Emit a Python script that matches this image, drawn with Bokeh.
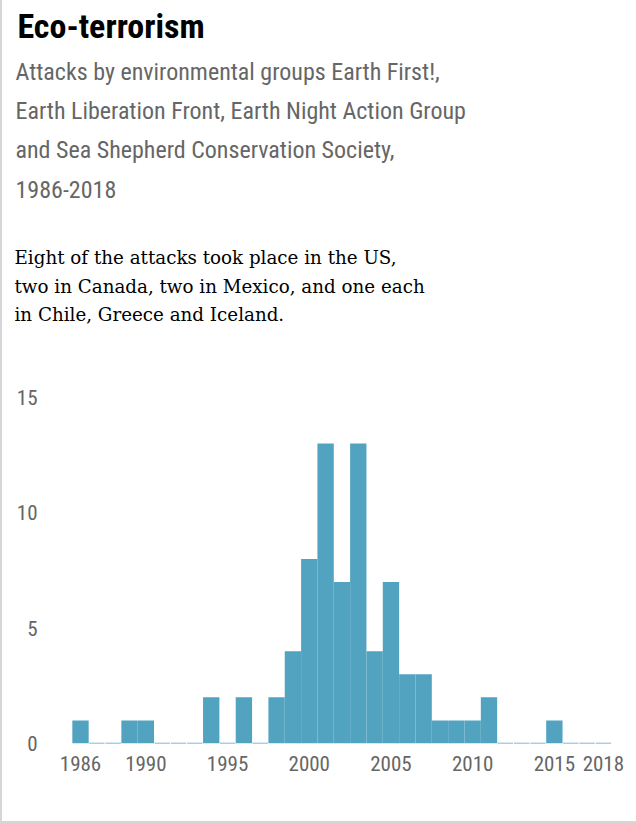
from bokeh.plotting import figure
from bokeh.layouts import column
from bokeh.models import Range1d, FixedTicker, Label, ColumnDataSource
from bokeh.embed import file_html
from bokeh.resources import INLINE

# ---- data ----
years = list(range(1986, 2019))
attacks = [1, 0, 0, 1, 1, 0, 0, 0, 2, 0, 2, 0, 2, 4, 8, 13, 7, 13, 4, 7,
           3, 3, 1, 1, 1, 2, 0, 0, 0, 1, 0, 0, 0]
x_ticks = [1986, 1990, 1995, 2000, 2005, 2010, 2015, 2018]
y_ticks = [0, 5, 10, 15]

title = "Eco-terrorism"
subtitle = ["Attacks by environmental groups Earth First!,",
            "Earth Liberation Front, Earth Night Action Group",
            "and Sea Shepherd Conservation Society,",
            "1986-2018"]
note = ["Eight of the attacks took place in the US,",
        "two in Canada, two in Mexico, and one each",
        "in Chile, Greece and Iceland."]

# ---- style ----
BAR = "#52a3c0"
GREY = "#666666"
NARROW = "Roboto Condensed"
SERIF = "DejaVu Serif"
B = 2                      # page border width
W, H = 636 - B, 823 - B
TOP_H = 360

# ---- header figure (text only) ----
h = figure(width=W, height=TOP_H, min_border=0,
           x_range=Range1d(0, W), y_range=Range1d(TOP_H, 0),
           x_axis_type=None, y_axis_type=None,
           output_backend="svg", toolbar_location=None)
h.outline_line_color = None
h.grid.visible = False
h.frame_align = False

h.add_layout(Label(x=17 - B, y=39 - 14, text=title, text_font=NARROW,
                   text_font_style="bold", text_font_size="34px",
                   text_color="#000000", text_baseline="alphabetic"))
for i, line in enumerate(subtitle):
    h.add_layout(Label(x=15 - B, y=80 - 9 + 39.3 * i, text=line,
                       text_font=NARROW, text_font_size="24px",
                       text_color=GREY, text_baseline="alphabetic"))
for i, line in enumerate(note):
    h.add_layout(Label(x=14 - B, y=265 - 8 + 28.5 * i, text=line,
                       text_font=SERIF, text_font_size="18.3px",
                       text_color="#000000", text_baseline="alphabetic"))

# ---- chart figure ----
FL, FW, FT, FH = 43 - B, 577, 18, 365
PXX, PXY = 16.34, 23.07
x0 = 1986 - (80 - B - FL) / PXX
x1 = x0 + FW / PXX
y1 = FH / PXY

p = figure(frame_width=FW, frame_height=FH,
           min_border_left=FL, min_border_right=W - FL - FW,
           min_border_top=FT, min_border_bottom=H - TOP_H - FT - FH,
           x_range=Range1d(x0, x1), y_range=Range1d(0, y1),
           output_backend="svg", toolbar_location=None,
           background_fill_color="white", border_fill_color="white")
p.outline_line_color = None
p.grid.visible = False
p.frame_align = False

for ax in (p.xaxis[0], p.yaxis[0]):
    ax.axis_line_color = None
    ax.major_tick_line_color = None
    ax.minor_tick_line_color = None
    ax.major_tick_out = 0
    ax.major_tick_in = 0
    ax.major_label_text_font = NARROW
    ax.major_label_text_font_size = "21px"
    ax.major_label_text_color = GREY
p.xaxis.ticker = FixedTicker(ticks=x_ticks)
p.yaxis.ticker = FixedTicker(ticks=y_ticks)
p.xaxis.major_label_standoff = 12
p.yaxis.major_label_standoff = 6

nz = [(y, a) for y, a in zip(years, attacks) if a > 0]
z = [y for y, a in zip(years, attacks) if a == 0]
src = ColumnDataSource(dict(left=[y - 0.5 for y, _ in nz],
                            right=[y + 0.5 for y, _ in nz],
                            top=[a for _, a in nz]))
p.quad(left="left", right="right", bottom=0, top="top", source=src,
       fill_color=BAR, line_color=None)
p.segment(x0=[y - 0.47 for y in z], x1=[y + 0.47 for y in z],
          y0=[0] * len(z), y1=[0] * len(z), line_color=BAR, line_width=1.5)

layout = column(h, p, spacing=0,
                styles={"border-left": f"{B}px solid #d6d6d6",
                        "border-bottom": f"{B}px solid #d6d6d6"})
open("out.html", "w").write(file_html(layout, INLINE))
